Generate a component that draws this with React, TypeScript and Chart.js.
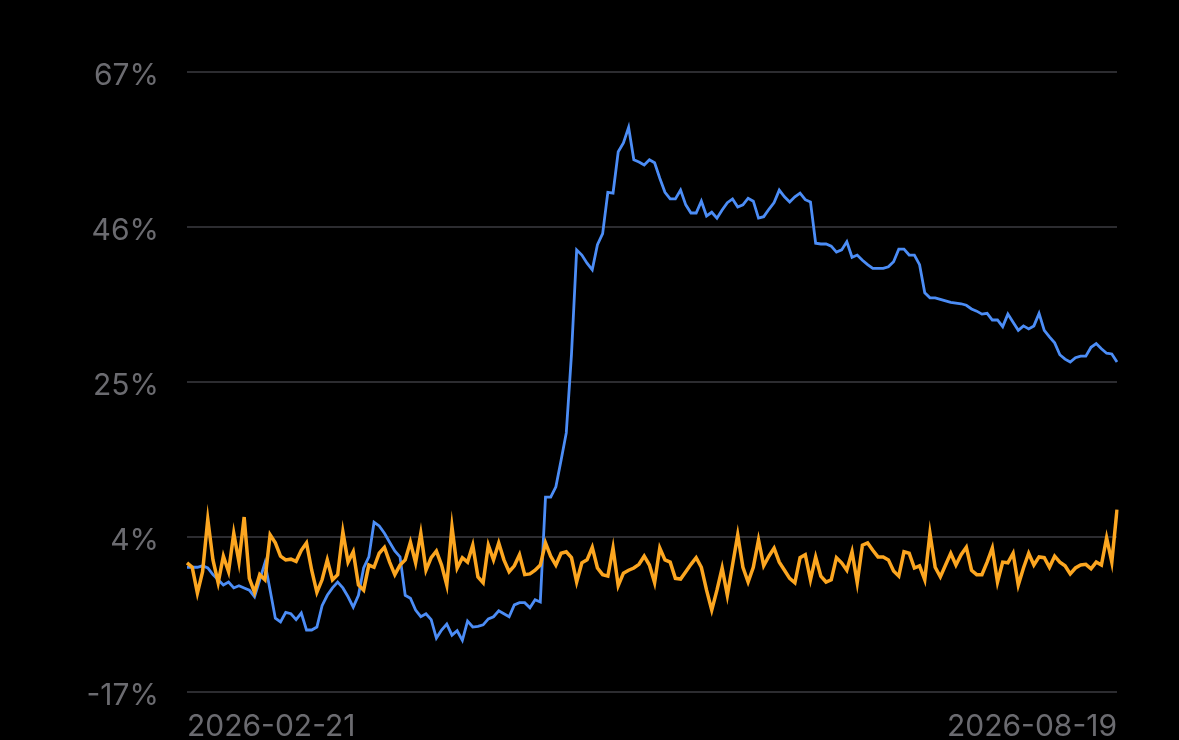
import React, { useRef, useEffect } from "react";
import Chart from "chart.js/auto";

const startDate = "2026-02-21";
const endDate = "2026-08-19";

// one label per day, 2026-02-21 .. 2026-08-19
const dates: string[] = [];
for (let d = new Date(startDate + "T00:00:00Z"); d <= new Date(endDate + "T00:00:00Z"); d.setUTCDate(d.getUTCDate() + 1)) {
  dates.push(d.toISOString().slice(0, 10));
}

const yTicks = [-17, 4, 25, 46, 67];

const blueSeries = [
  -0.1, -0.1, -0.1, 0.1, -0.2, -1.1, -1.8, -2.5, -2.1, -2.9,
  -2.6, -2.9, -3.2, -4.1, -1.8, 0.5, -3.2, -7.0, -7.5, -6.2,
  -6.4, -7.2, -6.3, -8.6, -8.6, -8.2, -5.3, -3.9, -2.9, -2.1,
  -2.9, -4.1, -5.5, -3.9, -0.2, 1.3, 6.0, 5.5, 4.5, 3.3,
  2.1, 1.3, -3.9, -4.3, -5.9, -6.8, -6.4, -7.2, -9.7, -8.6,
  -7.8, -9.3, -8.7, -10.0, -7.4, -8.2, -8.1, -7.9, -7.1, -6.8,
  -6.0, -6.4, -6.8, -5.2, -4.9, -4.9, -5.6, -4.5, -4.8, 9.4,
  9.4, 10.8, 14.4, 18.1, 28.7, 42.9, 42.2, 41.1, 40.2, 43.6,
  45.1, 50.7, 50.6, 56.2, 57.4, 59.5, 55.1, 54.8, 54.4, 55.1,
  54.7, 52.6, 50.7, 49.8, 49.8, 51.0, 49.0, 47.9, 47.9, 49.5,
  47.5, 48.0, 47.2, 48.3, 49.3, 49.8, 48.7, 49.0, 49.9, 49.5,
  47.2, 47.4, 48.4, 49.3, 51.0, 50.1, 49.4, 50.1, 50.6, 49.7,
  49.4, 43.8, 43.7, 43.7, 43.4, 42.6, 42.9, 44.0, 41.9, 42.2,
  41.5, 40.9, 40.4, 40.4, 40.4, 40.6, 41.3, 43.0, 43.0, 42.2,
  42.2, 40.9, 37.1, 36.4, 36.4, 36.2, 36.0, 35.8, 35.7, 35.6,
  35.4, 34.9, 34.6, 34.2, 34.3, 33.4, 33.4, 32.5, 34.2, 33.1,
  32.0, 32.6, 32.2, 32.6, 34.3, 32.0, 31.1, 30.3, 28.7, 28.1,
  27.7, 28.3, 28.5, 28.5, 29.7, 30.2, 29.5, 28.9, 28.8, 27.7,
];

const orangeSeries = [
  0.5, -0.1, -3.6, -0.7, 6.4, 0.9, -2.2, 1.4, -0.7, 4.5,
  0.6, 6.7, -1.6, -3.5, -1.1, -1.8, 4.3, 3.2, 1.4, 0.9,
  1.0, 0.7, 2.2, 3.2, -0.5, -3.5, -1.8, 0.9, -1.8, -1.1,
  4.7, 0.6, 2.0, -2.5, -3.2, 0.2, -0.1, 1.8, 2.6, 0.6,
  -1.1, 0.2, 0.9, 3.3, 0.5, 4.5, -0.5, 1.2, 2.1, 0.2,
  -2.5, 5.4, -0.2, 1.2, 0.6, 2.9, -1.4, -2.2, 2.9, 0.9,
  3.2, 0.9, -0.7, 0.1, 1.6, -1.1, -1.0, -0.5, 0.2, 3.2,
  1.4, 0.2, 1.8, 2.0, 1.2, -2.1, 0.5, 0.9, 2.6, -0.2,
  -1.1, -1.3, 2.5, -2.6, -0.9, -0.5, -0.2, 0.3, 1.4, 0.2,
  -2.2, 2.5, 0.9, 0.6, -1.6, -1.7, -0.7, 0.3, 1.2, -0.1,
  -3.2, -5.9, -3.2, -0.2, -3.9, 0.2, 4.3, -0.1, -2.1, -0.1,
  3.6, 0.1, 1.4, 2.5, 0.6, -0.5, -1.6, -2.2, 1.2, 1.6,
  -1.8, 1.3, -1.3, -2.1, -1.8, 1.2, 0.5, -0.5, 2.0, -2.2,
  2.9, 3.2, 2.2, 1.3, 1.3, 0.9, -0.6, -1.3, 2.0, 1.8,
  -0.2, 0.1, -1.8, 4.5, -0.1, -1.4, 0.2, 1.8, 0.2, 1.6,
  2.6, -0.5, -1.1, -1.1, 0.6, 2.5, -2.1, 0.6, 0.5, 1.8,
  -2.5, -0.2, 1.8, 0.2, 1.3, 1.2, -0.1, 1.4, 0.6, 0.1,
  -1.0, -0.2, 0.2, 0.3, -0.3, 0.6, 0.2, 3.9, 0.6, 7.7,
];

const FONT = "Inter, 'Noto Sans', sans-serif";
const LABEL_GREY = "#6b6b70";

const ReturnChart = () => {
  const chartRef = useRef<HTMLCanvasElement>(null);
  const chartInstanceRef = useRef<Chart | null>(null);

  useEffect(() => {
    document.body.style.margin = "0";
    document.body.style.background = "#000";
    if (!chartRef.current) return;
    const ctx = chartRef.current.getContext("2d");
    if (!ctx) return;

    if (chartInstanceRef.current) {
      chartInstanceRef.current.destroy();
    }

    chartInstanceRef.current = new Chart(ctx, {
      type: "line",
      data: {
        labels: dates,
        datasets: [
          {
            label: "orange",
            data: orangeSeries,
            borderColor: "#fca620",
            borderWidth: 3.5,
            pointRadius: 0,
            tension: 0,
          },
          {
            label: "blue",
            data: blueSeries,
            borderColor: "#4c8df6",
            borderWidth: 2.8,
            pointRadius: 0,
            tension: 0,
          },
        ],
      },
      options: {
        animation: false,
        responsive: false,
        layout: {
          padding: { left: 0, right: 62, top: 72, bottom: 0 },
        },
        plugins: {
          legend: { display: false },
          tooltip: { enabled: false },
        },
        scales: {
          x: {
            afterFit: (scale) => {
              scale.height = 48;
              scale.paddingLeft = 0;
              scale.paddingRight = 0;
            },
            grid: { display: false, drawTicks: false },
            border: { display: false },
            ticks: {
              autoSkip: false,
              maxRotation: 0,
              align: "inner",
              padding: 20,
              color: LABEL_GREY,
              font: { family: FONT, size: 30, lineHeight: 1 },
              callback: (_v, index) =>
                index === 0 || index === dates.length - 1 ? dates[index] : null,
            },
          },
          y: {
            min: yTicks[0],
            max: yTicks[yTicks.length - 1],
            afterBuildTicks: (scale) => {
              scale.ticks = yTicks.map((value) => ({ value }));
            },
            afterFit: (scale) => {
              scale.width = 187;
              scale.paddingTop = 0;
              scale.paddingBottom = 0;
            },
            grid: {
              color: "#2c2c30",
              lineWidth: 2,
              drawTicks: false,
            },
            border: { display: false },
            ticks: {
              padding: 28,
              labelOffset: 4,
              color: LABEL_GREY,
              font: { family: FONT, size: 30 },
              callback: (v) => `${v}%`,
            },
          },
        },
      },
    });

    return () => {
      if (chartInstanceRef.current) {
        chartInstanceRef.current.destroy();
        chartInstanceRef.current = null;
      }
    };
  }, []);

  return (
    <div style={{ width: 1179, height: 740, background: "#000" }}>
      <canvas ref={chartRef} width={1179} height={740} />
    </div>
  );
};

export default function App() {
  return <ReturnChart />;
}
